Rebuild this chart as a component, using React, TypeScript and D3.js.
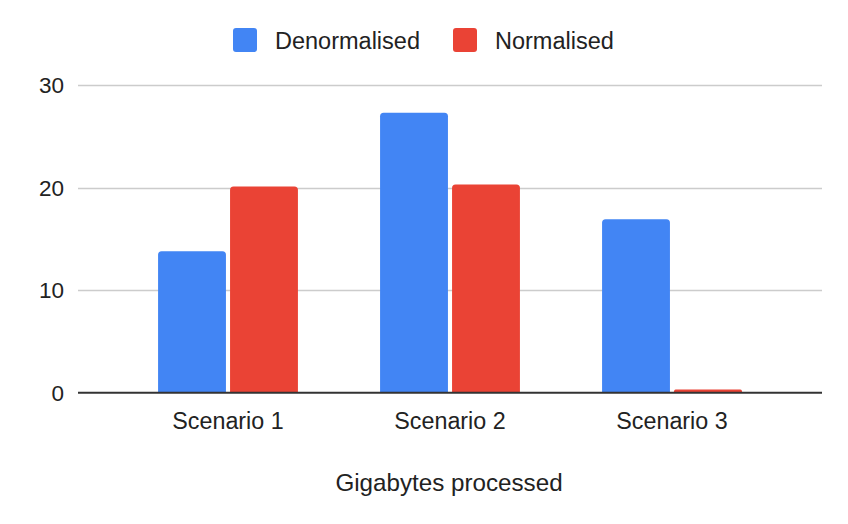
import { useEffect, useRef } from 'react';
import * as d3 from 'd3';

const categories = ['Scenario 1', 'Scenario 2', 'Scenario 3'];
const seriesNames = ['Denormalised', 'Normalised'];
const denormalised = [13.8, 27.3, 16.9];
const normalised = [20.1, 20.3, 0.3];
const yTicks = [0, 10, 20, 30];
const axisTitle = 'Gigabytes processed';

const colors = ['#4285F4', '#EA4335'];
const FONT = '"Liberation Sans", Arial, sans-serif';

// top-rounded bar path
function barPath(x: number, y: number, w: number, h: number, r: number) {
  const rr = Math.min(r, h / 2, w / 2);
  return `M${x},${y + h}V${y + rr}Q${x},${y} ${x + rr},${y}H${x + w - rr}Q${x + w},${y} ${x + w},${y + rr}V${y + h}Z`;
}

export default function App() {
  const svgRef = useRef<SVGSVGElement>(null);

  useEffect(() => {
    document.body.style.margin = '0';
    if (!svgRef.current) return;
    const width = 848;
    const height = 524;

    const svg = d3.select(svgRef.current);
    svg.selectAll('*').remove();
    svg.attr('width', width).attr('height', height);

    svg.append('rect').attr('width', width).attr('height', height).attr('fill', '#fff');

    const plotLeft = 78;
    const plotRight = 822;

    const y = d3.scaleLinear().domain([0, 30]).range([392.7, 85]);
    const x0 = d3.scaleBand<string>()
      .domain(categories)
      .range([117, 783])
      .paddingInner(0.37)
      .paddingOuter(0.185);
    const x1 = d3.scaleBand<string>()
      .domain(seriesNames)
      .range([0, x0.bandwidth()])
      .paddingInner(0.057);

    // gridlines
    svg.append('g')
      .selectAll('line')
      .data(yTicks.filter(t => t !== 0))
      .enter()
      .append('line')
      .attr('x1', plotLeft)
      .attr('x2', plotRight)
      .attr('y1', d => Math.round(y(d)) + 0.5)
      .attr('y2', d => Math.round(y(d)) + 0.5)
      .attr('stroke', '#cccccc')
      .attr('stroke-width', 1.5);

    // y tick labels
    svg.append('g')
      .selectAll('text')
      .data(yTicks)
      .enter()
      .append('text')
      .attr('x', 64)
      .attr('y', d => y(d) + 8)
      .attr('text-anchor', 'end')
      .attr('font-family', FONT)
      .attr('font-size', 22.5)
      .attr('fill', '#222')
      .text(d => d);

    // bars
    const values = [denormalised, normalised];
    const groups = svg.append('g')
      .selectAll('g')
      .data(categories)
      .enter()
      .append('g')
      .attr('transform', d => `translate(${x0(d)},0)`);

    groups.selectAll('path')
      .data((_, i) => seriesNames.map((s, si) => ({ s, si, v: values[si][i] })))
      .enter()
      .append('path')
      .attr('d', d => {
        const top = y(d.v);
        return barPath(x1(d.s)!, top, x1.bandwidth(), y(0) - top, 3.5);
      })
      .attr('fill', d => colors[d.si]);

    // baseline
    svg.append('line')
      .attr('x1', plotLeft)
      .attr('x2', plotRight)
      .attr('y1', y(0))
      .attr('y2', y(0))
      .attr('stroke', '#333333')
      .attr('stroke-width', 2);

    // category labels
    svg.append('g')
      .selectAll('text')
      .data(categories)
      .enter()
      .append('text')
      .attr('x', d => x0(d)! + x0.bandwidth() / 2)
      .attr('y', 429)
      .attr('text-anchor', 'middle')
      .attr('font-family', FONT)
      .attr('font-size', 23.3)
      .attr('fill', '#222')
      .text(d => d);

    // axis title
    svg.append('text')
      .attr('x', 449)
      .attr('y', 491)
      .attr('text-anchor', 'middle')
      .attr('font-family', FONT)
      .attr('font-size', 24.2)
      .attr('fill', '#222')
      .text(axisTitle);

    // legend
    const legendX = [233, 453];
    const legend = svg.append('g')
      .selectAll('g')
      .data(seriesNames)
      .enter()
      .append('g')
      .attr('transform', (_, i) => `translate(${legendX[i]},28)`);

    legend.append('rect')
      .attr('width', 24)
      .attr('height', 24)
      .attr('rx', 3)
      .attr('fill', (_, i) => colors[i]);

    legend.append('text')
      .attr('x', 42)
      .attr('y', 20.5)
      .attr('font-family', FONT)
      .attr('font-size', 23.5)
      .attr('fill', '#222')
      .text(d => d);
  }, []);

  return <svg ref={svgRef} style={{ display: 'block' }}></svg>;
}
